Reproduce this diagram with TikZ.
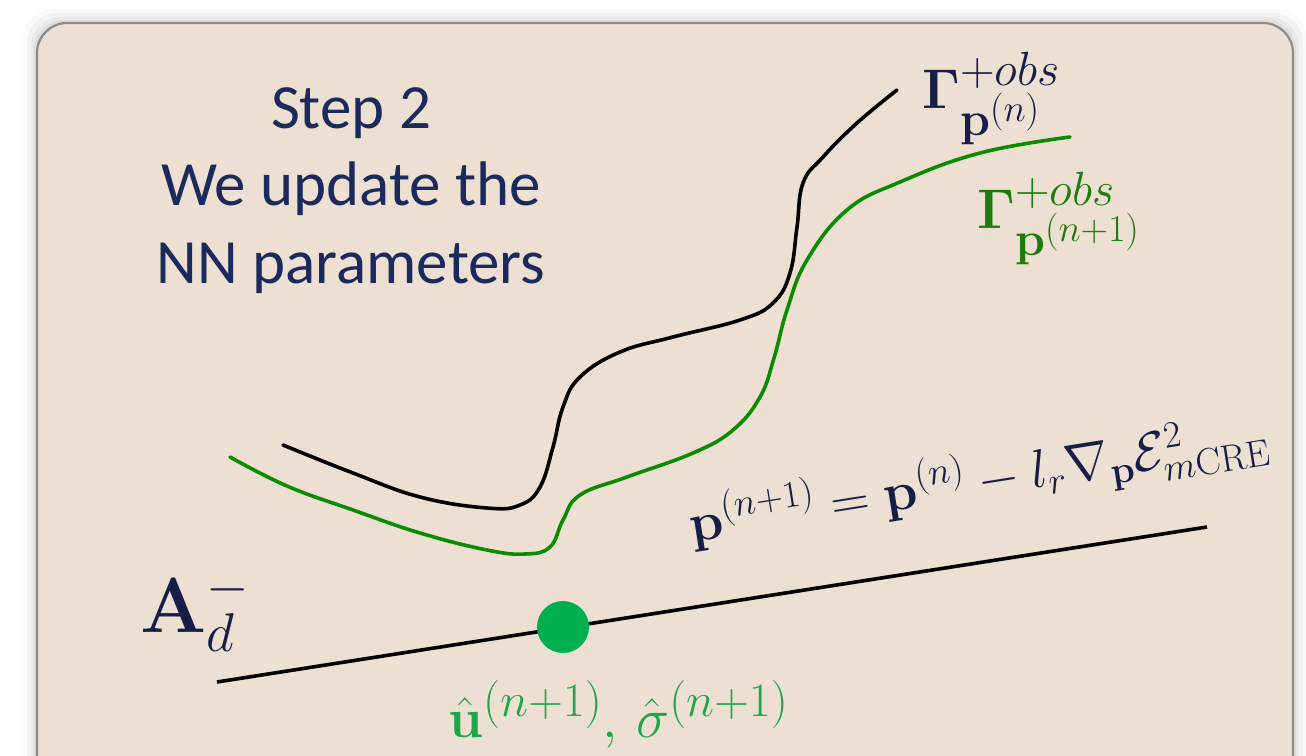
\RequirePackage{fix-cm}
\documentclass[tikz,border=0pt]{standalone}
\usepackage{amsmath}
\usepackage[no-math]{fontspec}
\newfontfamily\stepfont{Carlito}
\usetikzlibrary{positioning}
\DeclareMathSizes{56}{56}{48}{38}
\definecolor{navy}{HTML}{1B2A5C}
\definecolor{mathnavy}{HTML}{161E48}
\definecolor{panelbg}{HTML}{EDE0D2}
\definecolor{panelrule}{HTML}{8C8C8C}
\definecolor{curvegreen}{HTML}{0B8C00}
\definecolor{labelgreen}{HTML}{1E7B0C}
\definecolor{pointgreen}{HTML}{00B050}
\definecolor{hatgreen}{HTML}{20A548}
\newcommand{\mathsize}[1]{\fontsize{#1}{#1}\selectfont}

\begin{document}
\begin{tikzpicture}[
  x=1pt,y=-1pt,
  panel/.style={draw=panelrule,fill=panelbg,line width=2.2pt,rounded corners=30pt},
  stepnote/.style={font=\stepfont\fontsize{63}{77.5}\selectfont,text=navy,
    align=center,inner sep=0pt},
  mathlab/.style={inner sep=0pt,anchor=base west},
  curve/.style={line width=3.6pt,line cap=round},
  admline/.style={line width=3.6pt},
  estpoint/.style={circle,fill=pointgreen,minimum size=52pt,inner sep=0pt}
]
\useasboundingbox (0,0) rectangle (1306,755);

% soft shadow round the panel
\foreach \d/\o in {14/.02,10/.03,6/.04,3/.05}
  \fill[black,opacity=\o,rounded corners=30pt] (37-\d,23-\d) rectangle (1293+\d,790+\d);
\draw[panel] (37,23) rectangle (1293,790);

\node[stepnote,anchor=north] (step) at (351,87) {Step 2\\We update the\\NN parameters};

% observation curves, before and after the update
\draw[curve] plot[smooth,tension=.7] coordinates {
  (283,445) (353,473) (420,497) (487,508) (520,505) (540,487) (553,447)
  (563,407) (580,377) (620,352) (673,337) (740,320) (773,303) (790,273)
  (797,227) (803,183) (823,157) (857,123) (897,90)};
\draw[curve,curvegreen] plot[smooth,tension=.7] coordinates {
  (230,457) (287,486) (353,510) (420,533) (487,550) (525,554) (550,547)
  (563,520) (580,495) (627,477) (693,453) (733,430) (760,397) (774,358)
  (787,310) (807,260) (847,210) (900,182) (980,153) (1070,137)};

\node[mathlab,text=mathnavy,font=\mathsize{56}] (gamold) at (922,108)
  {$\mathbf{\Gamma}^{+obs}_{\mathbf{p}^{(n)}}$};
\node[mathlab,text=labelgreen,font=\mathsize{56}] (gamnew) at (977,228)
  {$\mathbf{\Gamma}^{+obs}_{\mathbf{p}^{(n+1)}}$};

% admissible set and the new estimate
\coordinate (adstart) at (217,682);
\coordinate (adend) at (1207,527);
\draw[admline] (adstart) -- (adend);
\node[estpoint] (est) at (563,627) {};

\node[mathlab,text=mathnavy,font=\mathsize{78}] (adm) at (140,632)
  {$\mathbf{A}^{-}_{d}$};
\node[mathlab,text=hatgreen,font=\mathsize{56}] (estlab) at (448,737)
  {$\hat{\mathbf{u}}^{(n+1)},\,\hat{\sigma}^{(n+1)}$};
\node[mathlab,rotate=9,text=mathnavy,font=\mathsize{54}] (update) at (692,543)
  {$\mathbf{p}^{(n+1)}=\mathbf{p}^{(n)}-l_r\nabla_{\mathbf{p}}\mathcal{E}^2_{m\mathrm{CRE}}$};
\end{tikzpicture}
\end{document}
